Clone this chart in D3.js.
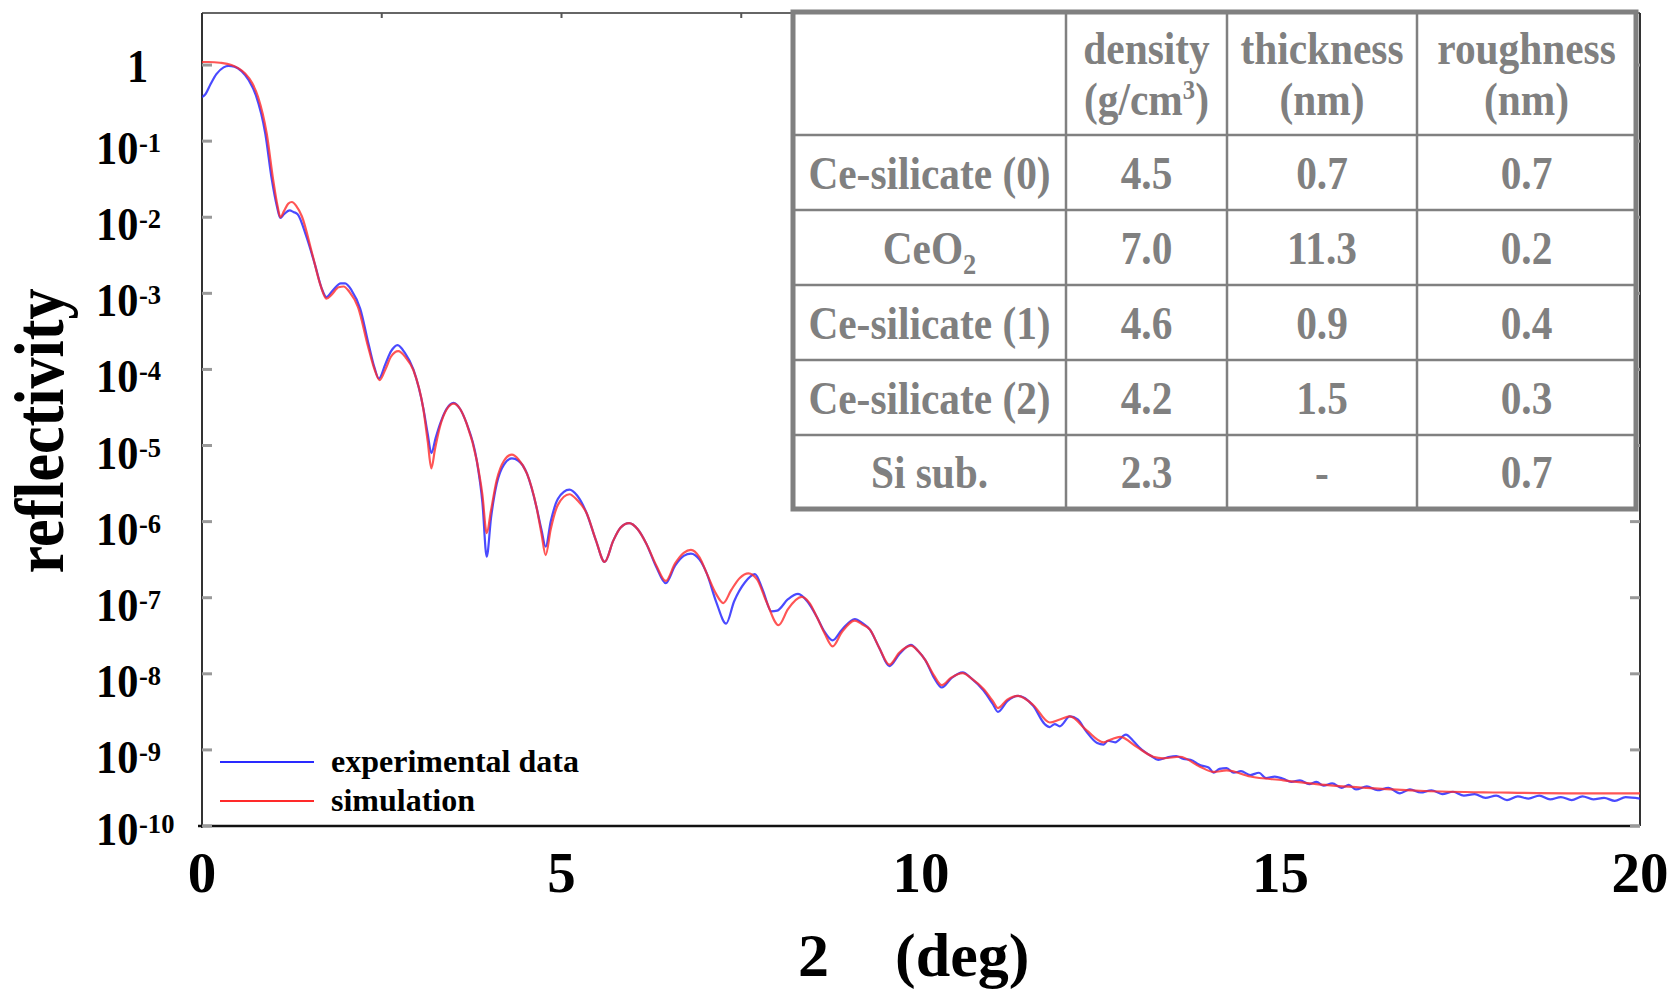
<!DOCTYPE html>
<html>
<head>
<meta charset="utf-8">
<script src="https://cdn.jsdelivr.net/npm/d3@7/dist/d3.min.js"></script>
<style>
    body { margin: 0; background: #fff; }
    svg { display: block; }
    text { font-family: "Liberation Serif", "Times New Roman", serif; font-weight: bold; }
</style>
</head>
<body>
<div id="chart"></div>
<script>
// Simulation curve: 2theta (deg) and log10(reflectivity)
const simAngle = [0.00, 0.09, 0.25, 0.41, 0.52, 0.60, 0.70, 0.78, 0.90, 0.99, 1.05, 1.09, 1.14, 1.20, 1.25, 1.31, 1.39, 1.53, 1.65, 1.73,
    1.80, 1.90, 1.97, 2.05, 2.17, 2.31, 2.40, 2.47, 2.55, 2.63, 2.73, 2.83, 2.94, 3.08, 3.14, 3.19, 3.24, 3.31, 3.40, 3.50,
    3.59, 3.68, 3.82, 3.90, 3.96, 4.02, 4.10, 4.20, 4.31, 4.40, 4.52, 4.65, 4.72, 4.78, 4.85, 4.95, 5.11, 5.22, 5.35, 5.48,
    5.60, 5.72, 5.82, 5.94, 6.06, 6.18, 6.32, 6.45, 6.58, 6.70, 6.80, 6.92, 7.02, 7.15, 7.25, 7.36, 7.48, 7.60, 7.72, 7.85,
    8.02, 8.15, 8.34, 8.45, 8.55, 8.66, 8.77, 8.90, 9.08, 9.18, 9.29, 9.42, 9.56, 9.70, 9.86, 9.96, 10.06, 10.18, 10.29, 10.42,
    10.58, 10.70, 10.87, 11.00, 11.07, 11.20, 11.35, 11.56, 11.79, 11.93, 12.07, 12.30, 12.54, 12.65, 12.77, 13.00, 13.23, 13.37, 13.60, 13.88,
    14.07, 14.25, 14.58, 15.04, 15.50, 16.20, 17.00, 18.05, 19.00, 20.00];
const simLogR = [0.04, 0.04, 0.03, 0.00, -0.05, -0.11, -0.24, -0.42, -0.90, -1.51, -1.85, -2.00, -1.92, -1.82, -1.80, -1.85, -1.99, -2.47, -2.90, -3.07,
    -3.02, -2.92, -2.91, -2.98, -3.18, -3.70, -4.00, -4.14, -4.00, -3.83, -3.76, -3.84, -4.01, -4.53, -4.95, -5.30, -5.05, -4.75, -4.53, -4.45,
    -4.52, -4.71, -5.19, -5.65, -6.15, -5.85, -5.45, -5.20, -5.12, -5.18, -5.37, -5.80, -6.15, -6.44, -6.10, -5.78, -5.64, -5.72, -5.89, -6.25,
    -6.53, -6.25, -6.08, -6.02, -6.10, -6.29, -6.58, -6.78, -6.55, -6.41, -6.37, -6.47, -6.68, -6.95, -7.07, -6.90, -6.74, -6.68, -6.76, -7.05,
    -7.36, -7.15, -6.99, -7.07, -7.25, -7.47, -7.64, -7.45, -7.30, -7.35, -7.42, -7.66, -7.88, -7.72, -7.63, -7.70, -7.82, -8.02, -8.15, -8.05,
    -7.99, -8.06, -8.20, -8.36, -8.45, -8.34, -8.29, -8.41, -8.64, -8.60, -8.56, -8.74, -8.90, -8.86, -8.83, -8.96, -9.09, -9.11, -9.09, -9.22,
    -9.29, -9.27, -9.35, -9.40, -9.45, -9.50, -9.54, -9.56, -9.57, -9.57];

// Experimental data
const expAngle = [0.00, 0.05, 0.12, 0.20, 0.30, 0.37, 0.45, 0.55, 0.65, 0.75, 0.88, 0.97, 1.04, 1.09, 1.14, 1.22, 1.27, 1.33, 1.45, 1.57,
    1.67, 1.73, 1.82, 1.93, 1.99, 2.08, 2.20, 2.32, 2.40, 2.46, 2.55, 2.63, 2.72, 2.82, 2.94, 3.08, 3.14, 3.19, 3.25, 3.31,
    3.40, 3.50, 3.59, 3.68, 3.82, 3.90, 3.96, 4.02, 4.10, 4.20, 4.31, 4.40, 4.52, 4.65, 4.72, 4.78, 4.85, 4.95, 5.11, 5.22,
    5.35, 5.48, 5.60, 5.72, 5.82, 5.94, 6.06, 6.18, 6.32, 6.45, 6.58, 6.70, 6.80, 6.92, 7.02, 7.15, 7.29, 7.40, 7.55, 7.69,
    7.80, 7.92, 8.00, 8.15, 8.29, 8.42, 8.55, 8.66, 8.77, 8.90, 9.08, 9.18, 9.29, 9.42, 9.56, 9.70, 9.86, 9.96, 10.06, 10.18,
    10.29, 10.42, 10.58, 10.70, 10.87, 11.00, 11.07, 11.20, 11.35, 11.56, 11.72, 11.79, 11.86, 11.93, 12.07, 12.18, 12.30, 12.45, 12.54, 12.60,
    12.70, 12.85, 12.95, 13.05, 13.20, 13.30, 13.42, 13.55, 13.65, 13.75, 13.88, 14.00, 14.07, 14.15, 14.25, 14.35, 14.45, 14.58, 14.70, 14.80,
    14.92, 15.04, 15.15, 15.27, 15.40, 15.50, 15.60, 15.72, 15.85, 15.95, 16.05, 16.20, 16.35, 16.50, 16.66, 16.80, 16.95, 17.10, 17.25, 17.40,
    17.55, 17.70, 17.85, 18.00, 18.15, 18.30, 18.45, 18.60, 18.75, 18.90, 19.05, 19.20, 19.35, 19.50, 19.65, 19.80, 20.00];
const expLogR = [-0.42, -0.38, -0.25, -0.12, -0.03, -0.01, -0.02, -0.08, -0.20, -0.40, -0.90, -1.50, -1.85, -2.01, -1.96, -1.91, -1.93, -1.96, -2.25, -2.62,
    -2.95, -3.05, -2.96, -2.87, -2.87, -2.96, -3.20, -3.68, -3.98, -4.12, -3.93, -3.76, -3.68, -3.78, -4.00, -4.52, -4.85, -5.10, -4.90, -4.72,
    -4.52, -4.44, -4.52, -4.71, -5.19, -5.75, -6.46, -5.95, -5.50, -5.25, -5.17, -5.20, -5.37, -5.80, -6.10, -6.33, -6.00, -5.70, -5.58, -5.66,
    -5.89, -6.25, -6.53, -6.25, -6.08, -6.02, -6.10, -6.29, -6.60, -6.81, -6.58, -6.45, -6.42, -6.50, -6.68, -7.05, -7.34, -7.05, -6.80, -6.69,
    -6.90, -7.18, -7.17, -7.02, -6.95, -7.05, -7.25, -7.45, -7.56, -7.42, -7.28, -7.33, -7.42, -7.66, -7.90, -7.74, -7.62, -7.70, -7.82, -8.05,
    -8.18, -8.06, -7.98, -8.06, -8.22, -8.40, -8.50, -8.36, -8.29, -8.42, -8.66, -8.70, -8.66, -8.69, -8.56, -8.60, -8.76, -8.91, -8.93, -8.88,
    -8.90, -8.80, -8.88, -8.98, -9.08, -9.13, -9.10, -9.08, -9.12, -9.13, -9.20, -9.23, -9.30, -9.25, -9.24, -9.30, -9.28, -9.33, -9.30, -9.37,
    -9.35, -9.38, -9.42, -9.40, -9.45, -9.42, -9.47, -9.44, -9.50, -9.46, -9.52, -9.48, -9.53, -9.50, -9.57, -9.52, -9.56, -9.53, -9.58, -9.55,
    -9.60, -9.58, -9.63, -9.60, -9.66, -9.61, -9.64, -9.60, -9.65, -9.62, -9.66, -9.61, -9.65, -9.63, -9.67, -9.62, -9.64];

// Axis ticks
const xTickValues = [0, 5, 10, 15, 20];
const yExponents = [-1, -2, -3, -4, -5, -6, -7, -8, -9, -10];

// Fit parameters table
const tableHeader = [["density", "(g/cm", "3", ")"], ["thickness", "(nm)"], ["roughness", "(nm)"]];
const layerNames = ["Ce-silicate (0)", "CeO", "Ce-silicate (1)", "Ce-silicate (2)", "Si sub."];
const densities = ["4.5", "7.0", "4.6", "4.2", "2.3"];
const thicknesses = ["0.7", "11.3", "0.9", "1.5", "-"];
const roughnesses = ["0.7", "0.2", "0.4", "0.3", "0.7"];

const legendNames = ["experimental data", "simulation"];
const colors = { exp: "#2a2aff", sim: "#ff2a2a" };

const W = 1680, H = 991;
const plot = { left: 202, right: 1640, top: 13, bottom: 826 };

const svg = d3.select('#chart').append('svg')
    .attr('width', W)
    .attr('height', H);

const xScale = d3.scaleLinear().domain([0, 20]).range([plot.left, plot.right]);
const yScale = d3.scaleLog().domain([1e-10, Math.pow(10, 0.684)]).range([plot.bottom, plot.top]);

// helper for horizontally condensed text
function addText(parent, x, y, str, size, opts = {}) {
    const sx = opts.sx || 1;
    return parent.append('text')
        .attr('transform', `translate(${x},${y}) scale(${sx},1)`)
        .attr('text-anchor', opts.anchor || 'start')
        .style('font-size', size + 'px')
        .style('fill', opts.fill || '#000')
        .text(str);
}

// Clip for curves
svg.append('clipPath').attr('id', 'plotClip')
    .append('rect')
    .attr('x', plot.left).attr('y', plot.top)
    .attr('width', plot.right - plot.left).attr('height', plot.bottom - plot.top);

// Axis frame
svg.append('line')
    .attr('x1', plot.left).attr('x2', plot.right)
    .attr('y1', plot.top).attr('y2', plot.top)
    .attr('stroke', '#666').attr('stroke-width', 2);
svg.append('line')
    .attr('x1', plot.right).attr('x2', plot.right)
    .attr('y1', plot.top).attr('y2', plot.bottom)
    .attr('stroke', '#333').attr('stroke-width', 2);
svg.append('line')
    .attr('x1', plot.left).attr('x2', plot.left)
    .attr('y1', plot.top).attr('y2', plot.bottom + 2)
    .attr('stroke', '#333').attr('stroke-width', 2);
svg.append('line')
    .attr('x1', plot.left - 4).attr('x2', plot.right)
    .attr('y1', plot.bottom).attr('y2', plot.bottom)
    .attr('stroke', '#111').attr('stroke-width', 2.5);

// Log ticks on left and right axes (inward)
const yTicks = yScale.ticks().filter(t => t >= 1e-10 && t <= yScale.domain()[1]);
const isMajor = t => Math.abs(Math.log10(t) - Math.round(Math.log10(t))) < 1e-6;
[plot.left, plot.right].forEach((ax, side) => {
    const dir = side === 0 ? 1 : -1;
    svg.append('g').selectAll('line')
        .data(yTicks)
        .enter()
        .append('line')
        .attr('x1', ax)
        .attr('x2', d => ax + dir * (isMajor(d) ? 10 : 4))
        .attr('y1', d => yScale(d))
        .attr('y2', d => yScale(d))
        .attr('stroke', d => isMajor(d) ? '#999' : '#444')
        .attr('stroke-width', d => isMajor(d) ? 3 : 1.5);
});

// Top ticks
svg.append('g').selectAll('line')
    .data(d3.range(2.5, 20, 2.5))
    .enter()
    .append('line')
    .attr('x1', d => xScale(d)).attr('x2', d => xScale(d))
    .attr('y1', plot.top).attr('y2', plot.top + 5)
    .attr('stroke', '#555').attr('stroke-width', 2);

// Curves
const line = d3.line()
    .x(d => xScale(d[0]))
    .y(d => yScale(Math.pow(10, d[1])))
    .curve(d3.curveMonotoneX);

const curves = svg.append('g').attr('clip-path', 'url(#plotClip)');
curves.append('path')
    .datum(d3.zip(expAngle, expLogR))
    .attr('d', line)
    .attr('fill', 'none')
    .attr('stroke', colors.exp)
    .attr('stroke-width', 2.2)
    .attr('stroke-opacity', 0.85);
curves.append('path')
    .datum(d3.zip(simAngle, simLogR))
    .attr('d', line)
    .attr('fill', 'none')
    .attr('stroke', colors.sim)
    .attr('stroke-width', 2.2)
    .attr('stroke-opacity', 0.8);

// Y tick labels
addText(svg, 127, yScale(1) + 17, '1', 47, { sx: 0.9 });
yExponents.forEach(e => {
    const ty = yScale(Math.pow(10, e));
    const base = ty + (e === -10 ? 19 : 23);
    addText(svg, 96, base, '10', 47, { sx: 0.9 });
    addText(svg, 139, base - 12, String(e), 28, { sx: 0.95 });
});

// X tick labels
xTickValues.forEach(v => {
    addText(svg, xScale(v), 892, String(v), 57, { anchor: 'middle' });
});

// Axis titles
addText(svg, 798, 976, '2', 62);
addText(svg, 895, 976, '(deg)', 62);
svg.append('text')
    .attr('transform', 'translate(63,431) rotate(-90) scale(0.9,1)')
    .attr('text-anchor', 'middle')
    .style('font-size', '69px')
    .text('reflectivity');

// Legend
const legendY = [762, 801];
[colors.exp, colors.sim].forEach((c, i) => {
    svg.append('line')
        .attr('x1', 220).attr('x2', 314)
        .attr('y1', legendY[i]).attr('y2', legendY[i])
        .attr('stroke', c).attr('stroke-width', 2);
    addText(svg, 331, legendY[i] + 10, legendNames[i], 32);
});

// Table of fitted parameters
const colX = [793, 1066, 1227, 1417, 1636];
const rowY = [12, 135, 210, 285, 360, 435, 509];
const gray = '#808080';
const table = svg.append('g');
table.append('rect')
    .attr('x', colX[0]).attr('y', rowY[0])
    .attr('width', colX[4] - colX[0]).attr('height', rowY[6] - rowY[0])
    .attr('fill', '#fff');
table.selectAll('.vline')
    .data(colX.slice(1, 4))
    .enter()
    .append('line')
    .attr('x1', d => d).attr('x2', d => d)
    .attr('y1', rowY[0]).attr('y2', rowY[6])
    .attr('stroke', gray).attr('stroke-width', 2.5);
table.selectAll('.hline')
    .data(rowY.slice(1, 6))
    .enter()
    .append('line')
    .attr('x1', colX[0]).attr('x2', colX[4])
    .attr('y1', d => d).attr('y2', d => d)
    .attr('stroke', gray).attr('stroke-width', 2.5);
table.append('rect')
    .attr('x', colX[0]).attr('y', rowY[0])
    .attr('width', colX[4] - colX[0]).attr('height', rowY[6] - rowY[0])
    .attr('fill', 'none')
    .attr('stroke', gray).attr('stroke-width', 5);

const tsx = 0.88, tsize = 47;
const colCenter = i => (colX[i] + colX[i + 1]) / 2;

// header
tableHeader.forEach((h, i) => {
    const cx = colCenter(i + 1);
    addText(table, cx, 64, h[0], tsize, { sx: tsx, anchor: 'middle', fill: gray });
    if (h.length > 2) {
        // (g/cm^3)
        const t = table.append('text')
            .attr('transform', `translate(${cx},115) scale(${tsx},1)`)
            .attr('text-anchor', 'middle')
            .style('font-size', tsize + 'px')
            .style('fill', gray);
        t.append('tspan').text(h[1]);
        t.append('tspan').attr('dy', -16).style('font-size', '28px').text(h[2]);
        t.append('tspan').attr('dy', 16).text(h[3]);
    } else {
        addText(table, cx, 115, h[1], tsize, { sx: tsx, anchor: 'middle', fill: gray });
    }
});

// body rows
layerNames.forEach((name, r) => {
    const base = (rowY[r + 1] + rowY[r + 2]) / 2 + 16;
    if (name === 'CeO') {
        const t = table.append('text')
            .attr('transform', `translate(${colCenter(0)},${base}) scale(${tsx},1)`)
            .attr('text-anchor', 'middle')
            .style('font-size', tsize + 'px')
            .style('fill', gray);
        t.append('tspan').text(name);
        t.append('tspan').attr('dy', 10).style('font-size', '30px').text('2');
    } else {
        addText(table, colCenter(0), base, name, tsize, { sx: tsx, anchor: 'middle', fill: gray });
    }
    [densities, thicknesses, roughnesses].forEach((col, c) => {
        addText(table, colCenter(c + 1), base, col[r], tsize, { sx: tsx, anchor: 'middle', fill: gray });
    });
});
</script>
</body>
</html>
